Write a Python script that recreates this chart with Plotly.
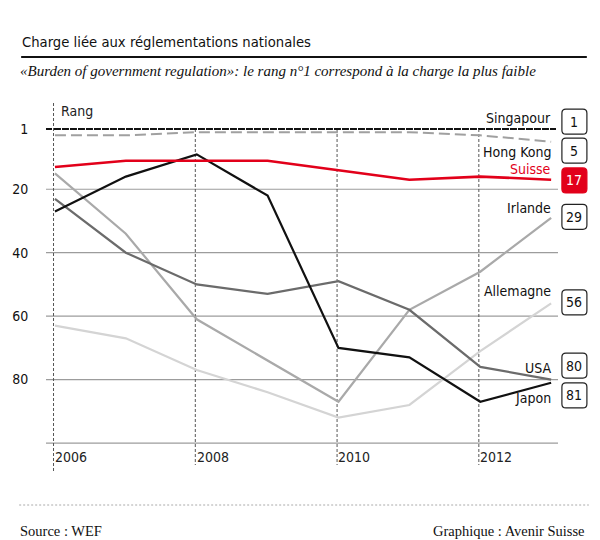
import plotly.graph_objects as go

years = [2006, 2007, 2008, 2009, 2010, 2011, 2012, 2013]

singapour = [1, 1, 1, 1, 1, 1, 1, 1]
hong_kong = [3, 3, 2, 2, 2, 2, 3, 5]
suisse = [13, 11, 11, 11, 14, 17, 16, 17]
irlande = [15, 34, 61, 74, 87, 58, 46, 29]
allemagne = [63, 67, 77, 84, 92, 88, 71, 56]
usa = [23, 40, 50, 53, 49, 58, 76, 80]
japon = [27, 16, 9, 22, 70, 73, 87, 81]

series_names = ["Singapour", "Hong Kong", "Suisse", "Irlande", "Allemagne", "USA", "Japon"]
y_ticks = [1, 20, 40, 60, 80]
x_labels = [2006, 2008, 2010, 2012]

title = "Charge liée aux réglementations nationales"
subtitle = "«Burden of government regulation»: le rang n°1 correspond à la charge la plus faible"
source = "Source : WEF"
credit = "Graphique : Avenir Suisse"

COND = "Liberation Sans Narrow, DejaVu Sans Condensed, Roboto, sans-serif"
SERIF = "Liberation Serif, DejaVu Serif, serif"
RED = "#e2001a"

# pixel geometry helpers (layout only)
W, H = 600, 540
ML, MR, MT, MB = 43, 42, 95, 65
PW = W - ML - MR
PH = H - MT - MB
PX_PER_RANK = 3.172
y_top_rank = 1 - 34 / PX_PER_RANK
y_bot_rank = 1 + (PH - 34) / PX_PER_RANK
x_left = 2006 - 9 / 71.3
x_right = 2006 + 506 / 71.3


def px_x(p):
    return (p - ML) / PW


def px_y(p):
    return (H - MB - p) / PH


fig = go.Figure()

styles = {
    "Allemagne": dict(color="#d4d4d4", width=2.2),
    "Irlande": dict(color="#a9a9a9", width=2.2),
    "USA": dict(color="#6b6b6b", width=2.2),
    "Hong Kong": dict(color="#a0a0a0", width=2, dash="11px,5px"),
    "Japon": dict(color="#111111", width=2.2),
    "Suisse": dict(color=RED, width=2.6),
    "Singapour": dict(color="#111111", width=2, dash="6px,2px"),
}
data = {
    "Singapour": singapour, "Hong Kong": hong_kong, "Suisse": suisse,
    "Irlande": irlande, "Allemagne": allemagne, "USA": usa, "Japon": japon,
}

# gridlines
shapes = []
for v in [20, 40, 60, 80, 100]:
    shapes.append(dict(type="line", xref="paper", yref="y", x0=0, x1=1, y0=v, y1=v,
                       line=dict(color="#9c9c9c", width=1.2), layer="below"))
shapes.append(dict(type="line", xref="paper", yref="y", x0=0, x1=1, y0=1, y1=1,
                   line=dict(color="#111111", width=2, dash="6px,2px"), layer="below"))
# vertical dashed year lines
for yr in x_labels:
    top = y_top_rank + 8 / PX_PER_RANK if yr == 2006 else 1
    bot = 1 + (336 + (6 if yr == 2006 else 0)) / PX_PER_RANK
    shapes.append(dict(type="line", xref="x", yref="y", x0=yr - 0.02, x1=yr - 0.02, y0=top, y1=bot,
                       line=dict(color="#555555", width=1, dash="3px,2px"), layer="below"))

for name in ["Allemagne", "Irlande", "USA", "Hong Kong", "Japon", "Suisse", "Singapour"]:
    fig.add_trace(go.Scatter(x=years, y=data[name], mode="lines", name=name,
                             line=styles[name], hoverinfo="x+y+name"))

annotations = []
# year labels
for yr in x_labels:
    annotations.append(dict(x=yr, y=1 + (457 - 129) / PX_PER_RANK, xref="x", yref="y",
                            text=str(yr), showarrow=False, xanchor="left", yanchor="middle",
                            xshift=-2, font=dict(family=COND, size=14, color="#222")))
annotations.append(dict(x=px_x(56), y=1 + (111 - 129) / PX_PER_RANK, xref="paper", yref="y",
                        text="Rang", showarrow=False, xanchor="left", yanchor="middle",
                        font=dict(family=COND, size=14, color="#222")))

# series labels with boxes (pixel offsets from end value)
label_text_off = {"Singapour": -11.3, "Hong Kong": 10, "Suisse": -11, "Irlande": -10,
                  "Allemagne": -12, "USA": -12, "Japon": 15.5}
label_box_off = {"Singapour": -7.3, "Hong Kong": 9, "Suisse": 0.7, "Irlande": -1,
                 "Allemagne": -1, "USA": -14, "Japon": 12.7}
r = 4
hw = 12.5
path = (f"M {-hw + r},{-hw} L {hw - r},{-hw} Q {hw},{-hw} {hw},{-hw + r} "
        f"L {hw},{hw - r} Q {hw},{hw} {hw - r},{hw} L {-hw + r},{hw} Q {-hw},{hw} {-hw},{hw - r} "
        f"L {-hw},{-hw + r} Q {-hw},{-hw} {-hw + r},{-hw} Z")
for name in series_names:
    last = data[name][-1]
    ty = last + label_text_off[name] / PX_PER_RANK
    by = last + label_box_off[name] / PX_PER_RANK
    is_ch = name == "Suisse"
    annotations.append(dict(x=px_x(553), y=ty, xref="paper", yref="y", text=name, showarrow=False,
                            xanchor="right", yanchor="middle",
                            font=dict(family=COND, size=14, color=RED if is_ch else "#111")))
    shapes.append(dict(type="path", xref="paper", yref="y", xsizemode="pixel", ysizemode="pixel",
                       xanchor=px_x(574.5), yanchor=by, path=path,
                       fillcolor=RED if is_ch else "white",
                       line=dict(color=RED if is_ch else "#222", width=1.2)))
    annotations.append(dict(x=px_x(574.5), y=by, xref="paper", yref="y", text=str(last),
                            showarrow=False, xanchor="center", yanchor="middle",
                            font=dict(family=COND, size=14, color="white" if is_ch else "#111")))

# title, subtitle, footer
annotations.append(dict(x=px_x(17), y=px_y(42), xref="paper", yref="paper", text=title,
                        showarrow=False, xanchor="left", yanchor="middle",
                        font=dict(family=COND, size=14.7, color="#111")))
annotations.append(dict(x=px_x(15), y=px_y(71), xref="paper", yref="paper", text=subtitle,
                        showarrow=False, xanchor="left", yanchor="middle",
                        font=dict(family=SERIF, size=15, color="#111", style="italic")))
annotations.append(dict(x=px_x(15), y=px_y(531), xref="paper", yref="paper", text=source,
                        showarrow=False, xanchor="left", yanchor="middle",
                        font=dict(family=SERIF, size=14.5, color="#111")))
annotations.append(dict(x=px_x(587), y=px_y(531), xref="paper", yref="paper", text=credit,
                        showarrow=False, xanchor="right", yanchor="middle",
                        font=dict(family=SERIF, size=14.5, color="#111")))
shapes.append(dict(type="line", xref="paper", yref="paper", x0=px_x(18), x1=px_x(587),
                   y0=px_y(57), y1=px_y(57), line=dict(color="#111", width=2)))
shapes.append(dict(type="line", xref="paper", yref="paper", x0=px_x(16), x1=px_x(589),
                   y0=px_y(505), y1=px_y(505), line=dict(color="#aaaaaa", width=1, dash="2px,2px")))

fig.update_layout(
    width=W, height=H,
    margin=dict(l=ML, r=MR, t=MT, b=MB),
    paper_bgcolor="white", plot_bgcolor="white",
    showlegend=False,
    shapes=shapes, annotations=annotations,
    xaxis=dict(range=[x_left, x_right], showgrid=False, zeroline=False, showticklabels=False,
               ticks="", showline=False, fixedrange=True),
    yaxis=dict(range=[y_bot_rank, y_top_rank], showgrid=False, zeroline=False,
               tickvals=y_ticks, ticktext=[str(t) for t in y_ticks],
               ticks="outside", ticklen=14, tickcolor="rgba(0,0,0,0)",
               tickfont=dict(family=COND, size=14, color="#111"), showline=False, fixedrange=True),
)

fig.write_html("out.html")
